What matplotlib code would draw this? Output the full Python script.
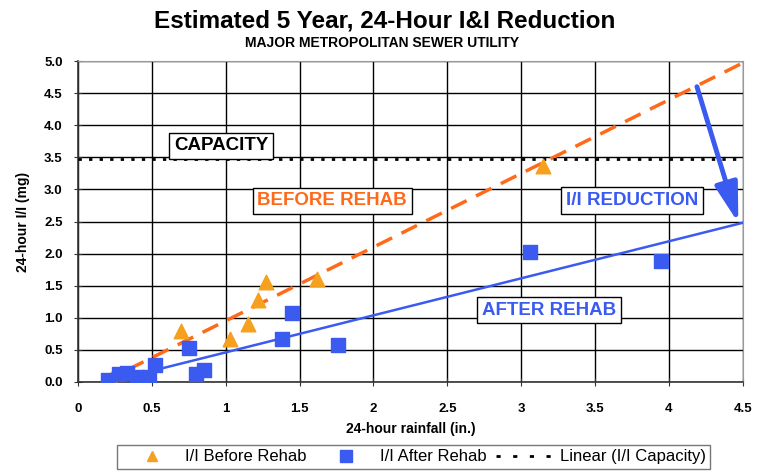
import matplotlib
matplotlib.use('Agg')
import matplotlib.pyplot as plt
import numpy as np

plt.rcParams['font.family'] = ['Liberation Sans', 'DejaVu Sans']

# 数据：降雨量 / I&I
before_x = [0.18, 0.22, 0.70, 1.03, 1.15, 1.22, 1.27, 1.62, 3.15]
before_y = [0.00, 0.04, 0.80, 0.67, 0.90, 1.27, 1.55, 1.60, 3.37]
after_x = [0.20, 0.28, 0.33, 0.40, 0.45, 0.48, 0.52, 0.75, 0.80, 0.85, 1.38, 1.45, 1.76, 3.06, 3.95]
after_y = [0.03, 0.12, 0.14, 0.08, 0.05, 0.08, 0.27, 0.53, 0.13, 0.18, 0.67, 1.07, 0.58, 2.03, 1.89]
capacity = 3.47
before_fit_x = [0.17, 4.5]
before_fit_y = [0.0, 4.97]
after_fit_x = [0.2, 4.5]
after_fit_y = [0.0, 2.48]
arrow_from = (4.19, 4.60)
arrow_to = (4.47, 2.48)

orange_mk = '#F5A01E'
orange_ln = '#FF6A1A'
blue = '#3A5AF0'

fig = plt.figure(figsize=(7.61, 4.72), dpi=100)
ax = fig.add_axes([0.1025, 0.1907, 0.8735, 0.680])

ax.plot(before_fit_x, before_fit_y, color=orange_ln, lw=2.5, ls=(0, (5, 3)), zorder=3)
ax.plot(after_fit_x, after_fit_y, color=blue, lw=1.8, zorder=3)
ax.axhline(capacity, color='black', lw=2, ls=(0, (1.2, 2.6)), zorder=3)

ax.scatter(before_x, before_y, marker='^', s=110, color=orange_mk, zorder=4)
ax.scatter(after_x, after_y, marker='s', s=110, color=blue, zorder=4)

# 图例用的代理对象
h1, = ax.plot([], [], '^', color=orange_mk, ms=7, label='I/I Before Rehab')
h2, = ax.plot([], [], 's', color=blue, ms=8, label='I/I After Rehab')
h3, = ax.plot([], [], color='black', lw=2, ls=(0, (1.5, 4.5)), label='Linear (I/I Capacity)')

ax.annotate('', xy=arrow_to, xytext=arrow_from,
            arrowprops=dict(arrowstyle='-|>,head_length=1.2,head_width=0.35', color=blue,
                            lw=3.5, mutation_scale=20, shrinkA=0, shrinkB=0), zorder=5)

box = dict(boxstyle='square,pad=0.25', fc='white', ec='black', lw=1)
ax.text(0.97, 3.68, 'CAPACITY', ha='center', va='center', fontsize=13.5,
        fontweight='bold', color='black', bbox=box, zorder=6)
ax.text(1.72, 2.82, 'BEFORE REHAB', ha='center', va='center', fontsize=13.5,
        fontweight='bold', color=orange_ln, bbox=box, zorder=6)
ax.text(3.75, 2.83, 'I/I REDUCTION', ha='center', va='center', fontsize=13.5,
        fontweight='bold', color=blue, bbox=box, zorder=6)
ax.text(3.19, 1.12, 'AFTER REHAB', ha='center', va='center', fontsize=13.5,
        fontweight='bold', color=blue, bbox=box, zorder=6)

ax.set_xlim(0, 4.5)
ax.set_ylim(0, 5.0)
ax.set_xticks(np.arange(0, 4.51, 0.5))
ax.set_xticklabels(['0', '0.5', '1', '1.5', '2', '2.5', '3', '3.5', '4', '4.5'])
ax.set_yticks(np.arange(0, 5.01, 0.5))
ax.set_yticklabels(['%.1f' % v for v in np.arange(0, 5.01, 0.5)])
ax.grid(True, color='black', lw=1, zorder=1)
ax.set_axisbelow(True)
for lab in ax.get_xticklabels() + ax.get_yticklabels():
    lab.set_fontweight('bold')
    lab.set_fontsize(9.5)
ax.tick_params(direction='inout', length=6, color='#333333')
ax.tick_params(axis='x', pad=12)
ax.tick_params(axis='y', pad=8)
for s in ['top', 'right']:
    ax.spines[s].set_color('#999999')
for s in ['left', 'bottom']:
    ax.spines[s].set_color('#333333')
    ax.spines[s].set_linewidth(1.2)

ax.set_xlabel('24-hour rainfall (in.)', fontsize=10, fontweight='bold', labelpad=5)
ax.set_ylabel('24-hour I/I (mg)', fontsize=10, fontweight='bold', labelpad=10)

fig.text(0.505, 0.955, 'Estimated 5 Year, 24-Hour I&I Reduction', ha='center', va='center',
         fontsize=17.5, fontweight='bold')
fig.text(0.502, 0.908, 'MAJOR METROPOLITAN SEWER UTILITY', ha='center', va='center',
         fontsize=10, fontweight='bold')

leg = fig.legend(handles=[h1, h2, h3], loc='center', bbox_to_anchor=(0.543, 0.032), ncol=3,
                 frameon=True, fancybox=False, edgecolor='#555555', fontsize=12,
                 columnspacing=0.55, handlelength=3.7, handletextpad=0.15, borderpad=0.25)
leg.get_frame().set_linewidth(1)

fig.savefig('out.png', dpi=100)
